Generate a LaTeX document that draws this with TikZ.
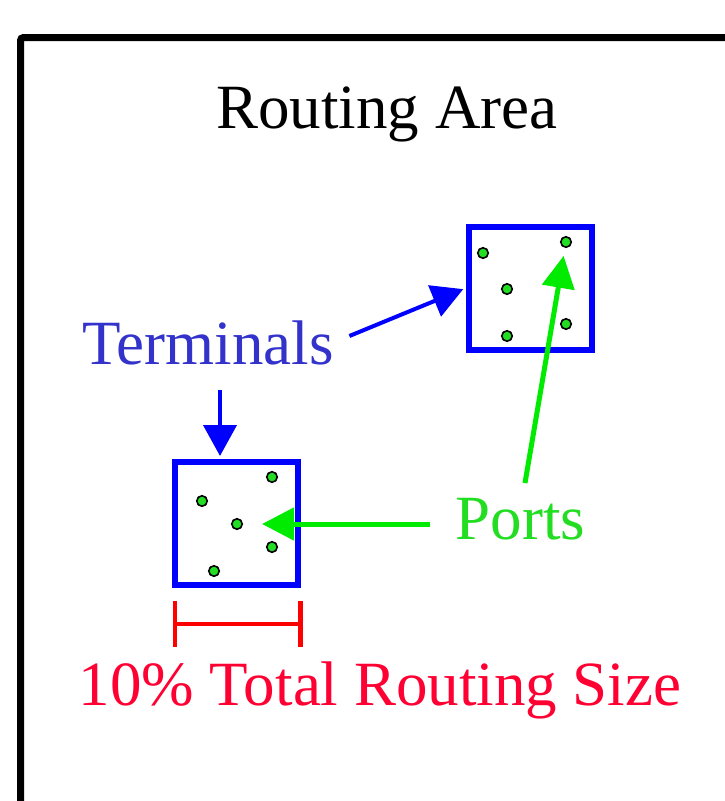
\documentclass[tikz,border=0pt]{standalone}
\usepackage{fontspec}
\setmainfont{Liberation Serif}
\usetikzlibrary{arrows.meta}

\definecolor{termblue}{RGB}{51,51,204}
\definecolor{portgreen}{RGB}{34,221,34}
\definecolor{arrowgreen}{RGB}{0,235,0}
\definecolor{sizered}{RGB}{255,0,51}

\begin{document}
\begin{tikzpicture}[x=1pt,y=-1pt,
  bigtext/.style={inner sep=0pt, anchor=base, font=\fontsize{63}{75}\selectfont},
  termbox/.style={draw=blue, line width=6pt, minimum size=123pt, inner sep=0pt},
  port/.style={circle, draw=black, line width=1.6pt, fill=portgreen, minimum size=10.5pt, inner sep=0pt},
  termarrow/.style={draw=blue, line width=4pt, -{Triangle[length=31pt,width=33pt]}},
  portarrow/.style={draw=arrowgreen, line width=5pt, -{Triangle[length=32pt,width=32pt]}}]
\useasboundingbox (0,0) rectangle (725,801);
\clip (0,0) rectangle (725,801);
\draw [line width=7pt, rounded corners=3pt] (20.5,860) -- (20.5,37.5) -- (780,37.5);

\node [bigtext] (title) at (387,128) {Routing Area};
\node [bigtext, text=termblue] (terms) at (208,364) {Terminals};
\node [bigtext, text=portgreen] (ports) at (520.5,539) {Ports};
\node [bigtext, text=sizered] (size) at (380,705) {10\% Total Routing Size};

% terminal boxes
\node [termbox] (tb1) at (530.5,288) {};
\node [termbox] (tb2) at (236.5,523.5) {};

% ports of the upper terminal
\node [port] (pa1) at (483,253) {};
\node [port] (pa2) at (566,242) {};
\node [port] (pa3) at (507,289) {};
\node [port] (pa4) at (566,324) {};
\node [port] (pa5) at (507,336) {};
% ports of the lower terminal
\node [port] (pb1) at (272,477) {};
\node [port] (pb2) at (202,501) {};
\node [port] (pb3) at (237,524) {};
\node [port] (pb4) at (272,547) {};
\node [port] (pb5) at (214,571) {};

% arrows
\draw [termarrow, shorten <=17pt, shorten >=3pt] (terms.east) -- (tb1.west);
\coordinate (tdown) at (220,390);
\draw [termarrow, shorten >=3pt] (tdown) -- (tdown |- tb2.north);
\coordinate (pup) at (525,483);
\draw [portarrow, shorten >=8pt] (pup) -- (pa2);
\draw [portarrow, shorten <=26pt, shorten >=19pt] (ports.west |- pb3) -- (pb3);

% size bar
\coordinate (dl) at (172.5,624);
\coordinate (dr) at (302.5,624);
\draw [draw=red, line width=4.5pt, {Bar[width=46pt]}-{Bar[width=46pt]}] (dl) -- (dr);
\end{tikzpicture}
\end{document}
